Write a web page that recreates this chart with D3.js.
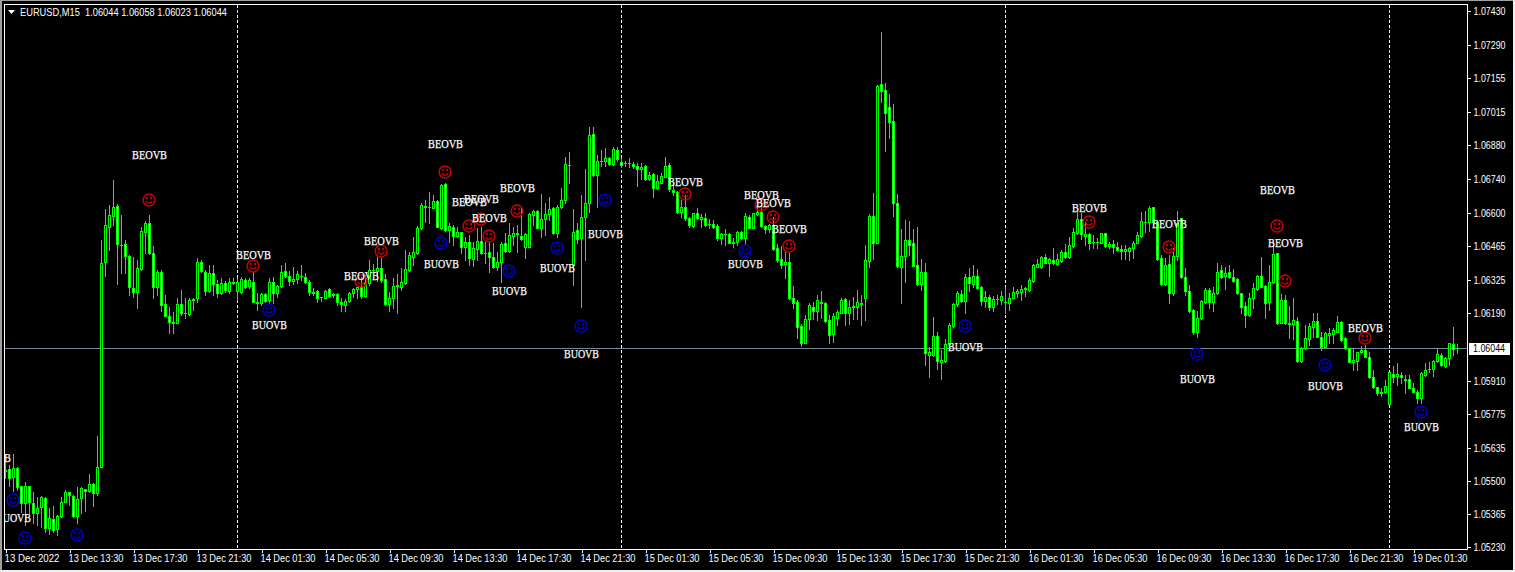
<!DOCTYPE html>
<html><head><meta charset="utf-8">
<script src="https://cdn.jsdelivr.net/npm/d3@7"></script>
<style>html,body{margin:0;padding:0;background:#000;overflow:hidden}svg{display:block}</style>
</head><body><div id="chart"></div>
<script>
// Prices are stored as points (0.00001) above BASE_PRICE.
const BASE_PRICE = 1.05;
const POINT = 0.00001;
const symbolTitle = "EURUSD,M15  1.06044 1.06058 1.06023 1.06044";
const lastPrice = 1.06044;
const opens = [
538,546,513,550,476,407,476,407,366,390,
427,304,341,300,353,411,452,435,353,427,
464,456,485,448,554,1396,1539,1585,1626,1466,
1470,1420,1289,1273,1367,1519,1556,1433,1293,1355,
1223,1174,1150,1145,1223,1186,1182,1240,1248,1396,
1355,1277,1351,1305,1268,1310,1277,1310,1277,1273,
1322,1297,1314,1227,1227,1264,1240,1314,1268,1297,
1359,1338,1318,1326,1338,1334,1314,1268,1277,1252,
1248,1285,1264,1264,1232,1219,1236,1268,1285,1297,
1256,1310,1363,1359,1371,1326,1223,1248,1297,1293,
1310,1363,1416,1433,1535,1626,1621,1617,1646,1535,
1716,1527,1539,1502,1519,1457,1478,1408,1449,1482,
1433,1437,1416,1375,1396,1474,1441,1502,1515,1502,
1457,1457,1589,1605,1535,1572,1593,1617,1515,1621,
1650,1794,1383,1527,1494,1580,1638,1921,1753,1810,
1810,1823,1798,1855,1806,1802,1802,1798,1790,1777,
1790,1736,1757,1699,1720,1745,1794,1691,1683,1601,
1621,1576,1544,1597,1572,1576,1552,1552,1544,1494,
1511,1511,1474,1478,1519,1494,1580,1535,1593,1601,
1544,1531,1548,1453,1408,1388,1396,1248,1232,1133,
1063,1162,1211,1195,1232,1227,1158,1100,1166,1186,
1244,1186,1211,1211,1227,1248,1400,1585,1474,2126,
2102,2032,1974,1638,1375,1420,1486,1474,1383,1305,
1355,1014,1014,1092,985,989,1059,1133,1223,1264,
1236,1334,1305,1338,1293,1236,1252,1211,1244,1240,
1232,1227,1248,1268,1273,1285,1281,1318,1375,1375,
1416,1392,1404,1388,1400,1437,1416,1461,1515,1572,
1502,1511,1478,1478,1474,1515,1461,1470,1457,1449,
1441,1441,1453,1474,1502,1560,1560,1621,1560,1412,
1305,1388,1268,1420,1576,1334,1277,1199,1108,1166,
1232,1281,1232,1268,1363,1338,1355,1334,1326,1268,
1215,1178,1248,1285,1338,1297,1232,1314,1433,1145,
1240,1141,1141,1154,989,1043,1080,1129,1154,1088,
1047,1096,1100,1108,1150,1084,1043,985,989,1026,
1035,1006,924,883,862,862,813,936,928,932,
916,916,879,862,838,932,957,957,989,1014,
969,1002,1059,1044];
const highs = [
583,563,608,554,476,493,476,452,431,435,
431,386,394,357,431,460,452,439,472,472,
464,526,489,682,1486,1613,1630,1732,1634,1589,
1486,1424,1416,1404,1539,1564,1589,1461,1363,1363,
1260,1211,1191,1248,1281,1248,1248,1248,1412,1404,
1363,1383,1383,1322,1330,1318,1330,1330,1330,1334,
1330,1330,1355,1268,1268,1268,1330,1334,1301,1383,
1392,1359,1375,1359,1383,1351,1322,1289,1281,1252,
1281,1289,1268,1268,1248,1244,1273,1289,1293,1334,
1342,1404,1388,1416,1412,1346,1273,1330,1346,1371,
1445,1437,1498,1543,1638,1650,1683,1671,1650,1716,
1720,1556,1548,1539,1519,1498,1507,1478,1535,1539,
1478,1478,1474,1437,1478,1515,1556,1539,1548,1617,
1515,1597,1609,1609,1675,1638,1663,1621,1630,1699,
1827,1847,1613,1556,1671,1777,1950,1950,1835,1855,
1864,1827,1868,1868,1823,1810,1823,1806,1802,1802,
1794,1765,1761,1753,1761,1827,1802,1724,1687,1650,
1671,1580,1597,1617,1593,1597,1572,1568,1552,1515,
1531,1515,1494,1523,1523,1597,1589,1597,1650,1630,
1548,1552,1580,1470,1461,1437,1433,1297,1240,1141,
1178,1227,1232,1260,1277,1232,1178,1186,1199,1248,
1248,1240,1252,1281,1260,1466,1593,1679,2122,2340,
2130,2085,2044,1675,1531,1568,1564,1531,1539,1408,
1392,1047,1170,1108,1035,1080,1145,1227,1277,1281,
1346,1371,1383,1367,1297,1277,1260,1256,1260,1277,
1293,1268,1293,1285,1301,1293,1330,1388,1408,1420,
1429,1412,1453,1429,1445,1470,1498,1535,1601,1597,
1560,1515,1507,1494,1515,1515,1478,1486,1478,1466,
1466,1457,1482,1519,1601,1605,1626,1621,1564,1424,
1412,1424,1453,1605,1576,1371,1301,1203,1195,1240,
1289,1289,1293,1392,1383,1375,1383,1367,1330,1268,
1232,1268,1310,1342,1416,1301,1383,1478,1433,1264,
1260,1215,1248,1170,1047,1137,1145,1186,1186,1108,
1108,1125,1125,1174,1154,1088,1043,1043,1026,1051,
1055,1026,953,883,879,911,944,969,981,944,
932,932,899,870,944,981,985,994,1043,1022,
1006,1063,1129,1058];
const lows = [
509,476,456,460,370,316,366,325,316,308,
288,279,288,275,349,411,398,349,325,366,
374,452,394,439,554,1338,1445,1548,1305,1351,
1351,1260,1252,1207,1363,1433,1429,1248,1260,1195,
1174,1104,1104,1145,1178,1166,1178,1199,1232,1355,
1260,1273,1260,1252,1264,1273,1268,1305,1240,1268,
1289,1289,1232,1199,1219,1232,1227,1227,1252,1293,
1334,1301,1305,1310,1322,1310,1260,1260,1232,1236,
1248,1252,1252,1219,1195,1195,1232,1252,1248,1248,
1252,1301,1359,1318,1314,1219,1195,1207,1186,1281,
1305,1359,1383,1429,1531,1560,1556,1617,1539,1531,
1523,1478,1466,1498,1433,1404,1383,1379,1404,1429,
1392,1355,1371,1363,1314,1437,1437,1466,1437,1486,
1412,1457,1548,1535,1498,1507,1568,1511,1498,1617,
1638,1720,1301,1474,1211,1404,1601,1749,1621,1790,
1790,1794,1794,1810,1786,1790,1786,1782,1708,1736,
1732,1732,1663,1695,1720,1745,1687,1671,1597,1580,
1568,1539,1539,1572,1539,1544,1535,1535,1486,1470,
1466,1474,1457,1466,1490,1466,1535,1535,1589,1539,
1515,1519,1445,1396,1371,1330,1244,1207,1084,1051,
1063,1121,1162,1158,1166,1150,1063,1067,1137,1186,
1137,1141,1162,1162,1137,1158,1375,1408,1474,2052,
1851,1905,1585,1375,1227,1314,1424,1379,1301,1281,
973,924,1010,957,916,985,1055,1129,1215,1232,
1186,1277,1293,1285,1219,1211,1199,1195,1223,1223,
1186,1199,1248,1252,1240,1256,1277,1314,1375,1371,
1392,1338,1388,1383,1396,1412,1412,1457,1511,1490,
1466,1449,1453,1453,1474,1457,1453,1433,1441,1408,
1408,1404,1412,1474,1498,1519,1523,1560,1404,1301,
1301,1227,1260,1404,1330,1260,1191,1100,1088,1162,
1227,1207,1195,1264,1330,1285,1330,1314,1264,1186,
1129,1174,1207,1281,1293,1166,1199,1310,1141,1145,
1141,1084,1080,985,985,1039,1055,1088,1088,1035,
1047,1063,1063,1108,1072,1039,985,953,953,1022,
1006,920,879,850,846,858,813,903,891,899,
858,879,862,817,817,928,944,928,985,969,
965,973,1014,1023];
const closes = [
542,509,550,472,407,476,411,366,386,431,
304,345,296,353,411,452,439,353,423,468,
456,485,448,554,1392,1548,1589,1621,1470,1466,
1420,1293,1273,1371,1523,1556,1433,1293,1355,1219,
1174,1150,1145,1223,1186,1186,1240,1244,1396,1359,
1277,1351,1305,1268,1310,1281,1314,1314,1314,1326,
1293,1322,1232,1232,1264,1236,1314,1268,1297,1355,
1338,1318,1326,1346,1338,1314,1273,1273,1248,1252,
1277,1256,1260,1232,1223,1236,1268,1285,1293,1256,
1310,1363,1363,1371,1322,1223,1248,1297,1301,1314,
1367,1424,1437,1535,1630,1621,1621,1646,1539,1712,
1527,1543,1502,1519,1457,1478,1412,1453,1482,1433,
1433,1416,1375,1396,1470,1441,1507,1515,1511,1490,
1511,1593,1605,1535,1572,1593,1613,1515,1621,1650,
1798,1794,1519,1490,1580,1638,1917,1753,1810,1810,
1823,1798,1859,1818,1794,1802,1802,1790,1777,1786,
1736,1753,1699,1728,1749,1790,1695,1683,1601,1621,
1576,1548,1597,1576,1580,1548,1552,1539,1494,1511,
1511,1474,1478,1519,1494,1585,1535,1597,1601,1544,
1531,1548,1449,1404,1383,1396,1248,1227,1129,1063,
1162,1219,1195,1240,1227,1154,1096,1174,1191,1240,
1186,1211,1215,1232,1223,1404,1585,1474,2118,2098,
2007,1970,1638,1379,1420,1486,1466,1379,1305,1355,
1022,1026,1092,989,994,1059,1137,1223,1268,1236,
1334,1310,1338,1289,1236,1252,1211,1244,1244,1256,
1232,1248,1273,1277,1285,1289,1322,1383,1388,1416,
1392,1408,1392,1408,1437,1416,1466,1519,1572,1511,
1511,1474,1478,1478,1515,1461,1470,1457,1445,1441,
1449,1453,1474,1507,1564,1560,1617,1560,1408,1305,
1383,1268,1420,1556,1334,1277,1195,1108,1166,1236,
1281,1232,1268,1355,1334,1351,1334,1318,1268,1211,
1178,1248,1289,1338,1293,1227,1314,1429,1145,1240,
1145,1145,1158,989,1043,1084,1133,1154,1088,1047,
1104,1104,1117,1150,1076,1043,985,994,1026,1035,
1006,924,883,858,858,887,944,924,936,924,
911,879,862,838,940,953,957,989,1018,973,
1002,1063,1039,1044];

// Signals: bar index, smiley price, label price
const bearBars   = [-3,36,62,89,94,110,116,119,121,128,170,189,192,196,271,291,318,320,340];
const bearSmiles = [542,1650,1379,1318,1441,1765,1544,1572,1502,1605,1675,1630,1580,1461,1560,1457,1544,1318,1084];
const bearLabels = [591,1835,1424,1338,1482,1880,1642,1654,1576,1699,1724,1671,1638,1531,1617,1552,1691,1474,1125];
const bullBars   = [2,5,18,66,109,126,138,144,150,185,240,298,330,354];
const bullSmiles = [419,263,275,1199,1474,1359,1453,1133,1650,1441,1133,1018,973,780];
const bullLabels = [345,null,null,1137,1388,1277,1371,1018,1511,1388,1047,916,887,719];
const bearText = "BEOVB", bullText = "BUOVB";

const priceTicks = [1.07430,1.07290,1.07155,1.07015,1.06880,1.06740,1.06600,1.06465,1.06325,1.06190,1.05910,1.05775,1.05635,1.05500,1.05365,1.05230];
const timeTickBars = [0,16,32,48,64,80,96,112,128,144,160,176,192,208,224,240,256,272,288,304,320,336,352];
const timeTickLabels = ["13 Dec 2022","13 Dec 13:30","13 Dec 17:30","13 Dec 21:30","14 Dec 01:30","14 Dec 05:30","14 Dec 09:30","14 Dec 13:30","14 Dec 17:30","14 Dec 21:30","15 Dec 01:30","15 Dec 05:30","15 Dec 09:30","15 Dec 13:30","15 Dec 17:30","15 Dec 21:30","16 Dec 01:30","16 Dec 05:30","16 Dec 09:30","16 Dec 13:30","16 Dec 17:30","16 Dec 21:30","19 Dec 01:30"];
const periodSeparatorBars = [58,154,250,346];

const W = 1515, H = 572;
const toPrice = p => BASE_PRICE + p * POINT;
const x = d3.scaleLinear().domain([0, 1]).range([5, 9]);
const y = d3.scaleLinear().domain([1.05230, 1.07430]).range([546, 10]);
const px = k => Math.round(x(k));
const py = p => Math.round(y(toPrice(p)));
const GREEN = "#00ff00";
const AXIS_FONT = "'Liberation Sans', Arial, sans-serif";

const svg = d3.select("#chart").append("svg").attr("width", W).attr("height", H)
  .style("background", "#000").attr("shape-rendering", "crispEdges");

// Window edges
svg.append("rect").attr("x",0).attr("y",0).attr("width",2).attr("height",H).attr("fill","#a0a0a0");
svg.append("rect").attr("x",0).attr("y",0).attr("width",W).attr("height",1).attr("fill","#a0a0a0");
svg.append("rect").attr("x",1513).attr("y",0).attr("width",2).attr("height",H).attr("fill","#f0f0f0");
svg.append("rect").attr("x",0).attr("y",570).attr("width",W).attr("height",2).attr("fill","#f0f0f0");

svg.append("clipPath").attr("id","plot").append("rect").attr("x",5).attr("y",5).attr("width",1462).attr("height",544);
const plot = svg.append("g").attr("clip-path","url(#plot)");

// Period separators
plot.selectAll("line.sep").data(periodSeparatorBars).join("line")
  .attr("x1", d => px(d)+.5).attr("x2", d => px(d)+.5).attr("y1",5).attr("y2",549)
  .attr("stroke","#fff").attr("stroke-dasharray","3,2");

// Last price line
plot.append("line").attr("x1",5).attr("x2",1467)
  .attr("y1", Math.round(y(lastPrice))+.5).attr("y2", Math.round(y(lastPrice))+.5)
  .attr("stroke","#778899");

// Candles
const bars = opens.map((o,i)=>({i,o,h:highs[i],l:lows[i],c:closes[i]}));
const candle = plot.selectAll("g.c").data(bars).join("g").attr("class","c");
candle.append("rect").attr("x",d=>px(d.i)).attr("width",1)
  .attr("y",d=>py(d.h)).attr("height",d=>py(d.l)-py(d.h)+1).attr("fill",GREEN);
candle.append("rect").attr("x",d=>px(d.i)-1).attr("width",3)
  .attr("y",d=>py(Math.max(d.o,d.c))).attr("height",d=>py(Math.min(d.o,d.c))-py(Math.max(d.o,d.c))+1).attr("fill",GREEN);
candle.filter(d=>py(Math.min(d.o,d.c))-py(Math.max(d.o,d.c))>=2).append("rect")
  .attr("x",d=>px(d.i)).attr("width",1)
  .attr("y",d=>py(Math.max(d.o,d.c))+1).attr("height",d=>py(Math.min(d.o,d.c))-py(Math.max(d.o,d.c))-1)
  .attr("fill",d=>d.c>=d.o?"#000":"#fff");

// Signals
function drawSignals(barsIdx, smiles, labels, txt, color){
  const sig = barsIdx.map((k,i)=>({k,s:smiles[i],l:labels[i]}));
  const g = plot.selectAll(null).data(sig).join("g")
    .attr("transform",d=>`translate(${px(d.k)},${py(d.s)})`).attr("shape-rendering","auto");
  g.append("circle").attr("r",5.9).attr("fill","none").attr("stroke",color).attr("stroke-width",1.5);
  g.append("rect").attr("x",-3).attr("y",-3).attr("width",1.8).attr("height",2.2).attr("fill",color);
  g.append("rect").attr("x",1.2).attr("y",-3).attr("width",1.8).attr("height",2.2).attr("fill",color);
  g.append("path").attr("d","M-3.4,1 Q0,5.4 3.4,1").attr("fill","none").attr("stroke",color).attr("stroke-width",1.3);
  plot.selectAll(null).data(sig.filter(d=>d.l!==null)).join("text")
    .attr("x",d=>px(d.k)+.5).attr("y",d=>py(d.l)+3.5)
    .attr("text-anchor","middle").attr("fill","#fff").attr("stroke","#fff").attr("stroke-width",0.25)
    .attr("font-family","'Liberation Serif','Times New Roman',serif").attr("font-size",13.5)
    .attr("textLength",35).attr("lengthAdjust","spacingAndGlyphs").attr("shape-rendering","auto").text(txt);
}
drawSignals(bearBars,bearSmiles,bearLabels,bearText,"#cc0000");
drawSignals(bullBars,bullSmiles,bullLabels,bullText,"#0000cc");

// Axes
const yAxis = d3.axisRight(y).tickValues(priceTicks).tickSize(3).tickPadding(3).tickFormat(d3.format(".5f"));
const ga = svg.append("g").attr("transform","translate(1467.5,0.5)").call(yAxis);
const xAxis = d3.axisBottom(x).tickValues(timeTickBars).tickSize(3).tickPadding(2)
  .tickFormat((d,i)=>timeTickLabels[i]);
const gx = svg.append("g").attr("transform","translate(0.5,549.5)").call(xAxis);
[ga,gx].forEach(g=>{
  g.select(".domain").remove();
  g.selectAll("line").attr("stroke","#fff");
  g.selectAll("text").attr("fill","#fff").attr("font-family",AXIS_FONT).attr("font-size",11).attr("shape-rendering","auto");
});
ga.selectAll("text").attr("textLength",32).attr("lengthAdjust","spacingAndGlyphs");
gx.selectAll("text").attr("text-anchor","start").attr("dx",-1.5).attr("textLength",55).attr("lengthAdjust","spacingAndGlyphs");

// Frame
svg.append("rect").attr("x",4.5).attr("y",4.5).attr("width",1463).attr("height",545)
  .attr("fill","none").attr("stroke","#fff");

// Current price tag
const tagY = Math.round(y(lastPrice));
svg.append("rect").attr("x",1469).attr("y",tagY-5).attr("width",41).attr("height",12).attr("fill","#fff");
svg.append("text").attr("x",1473).attr("y",tagY+4).attr("fill","#000").attr("font-family",AXIS_FONT)
  .attr("font-size",11).attr("textLength",32).attr("lengthAdjust","spacingAndGlyphs").text(lastPrice.toFixed(5));

// Title
svg.append("path").attr("d","M8,10H15L11.5,14Z").attr("fill","#fff").attr("shape-rendering","auto");
svg.append("text").attr("x",20).attr("y",16).attr("fill","#fff").attr("font-family",AXIS_FONT)
  .attr("font-size",11).attr("xml:space","preserve").style("white-space","pre")
  .attr("textLength",207).attr("lengthAdjust","spacingAndGlyphs").text(symbolTitle);
</script></body></html>
